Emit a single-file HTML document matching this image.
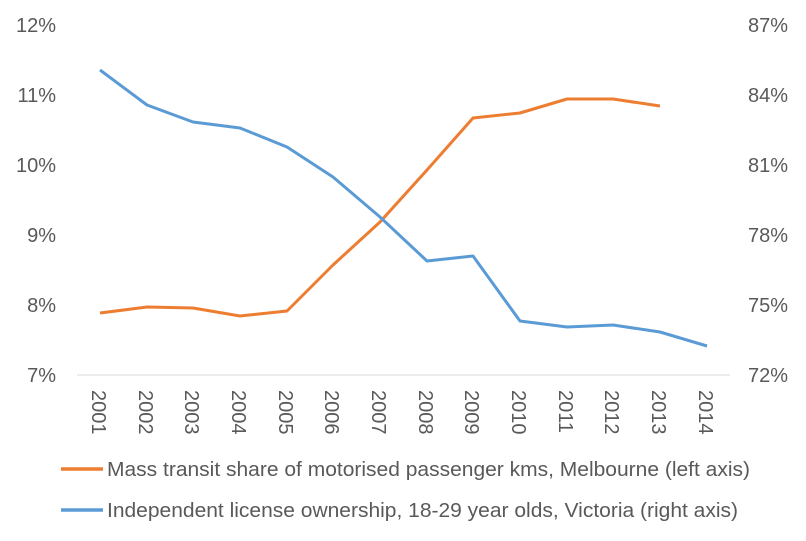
<!DOCTYPE html>
<html><head><meta charset="utf-8"><style>
html,body{margin:0;padding:0;background:#fff;}
svg{display:block;font-family:"Liberation Sans",sans-serif;}
</style></head><body>
<svg width="806" height="541" viewBox="0 0 806 541" xmlns="http://www.w3.org/2000/svg">
<rect width="806" height="541" fill="#fff"/>
<g font-size="20" fill="#595959" text-anchor="end">
<text x="56" y="32">12%</text>
<text x="56" y="102">11%</text>
<text x="56" y="172">10%</text>
<text x="56" y="242">9%</text>
<text x="56" y="312">8%</text>
<text x="56" y="382">7%</text>
</g>
<g font-size="20" fill="#595959" text-anchor="start">
<text x="748" y="32">87%</text>
<text x="748" y="102">84%</text>
<text x="748" y="172">81%</text>
<text x="748" y="242">78%</text>
<text x="748" y="312">75%</text>
<text x="748" y="382">72%</text>
</g>
<line x1="77" y1="375" x2="730" y2="375" stroke="#d9d9d9" stroke-width="1"/>
<g font-size="20" fill="#595959" text-anchor="start">
<text transform="translate(92,390) rotate(90)">2001</text>
<text transform="translate(139,390) rotate(90)">2002</text>
<text transform="translate(185,390) rotate(90)">2003</text>
<text transform="translate(232,390) rotate(90)">2004</text>
<text transform="translate(279,390) rotate(90)">2005</text>
<text transform="translate(325,390) rotate(90)">2006</text>
<text transform="translate(372,390) rotate(90)">2007</text>
<text transform="translate(419,390) rotate(90)">2008</text>
<text transform="translate(465,390) rotate(90)">2009</text>
<text transform="translate(512,390) rotate(90)">2010</text>
<text transform="translate(559,390) rotate(90)">2011</text>
<text transform="translate(605,390) rotate(90)">2012</text>
<text transform="translate(652,390) rotate(90)">2013</text>
<text transform="translate(699,390) rotate(90)">2014</text>
</g>
<polyline fill="none" stroke="#ED7D31" stroke-width="3" stroke-linejoin="round" points="100,313 147,307 193,308 240,316 287,311 333,265 380,222 427,170 473,118 520,113 567,99 613,99 660,106"/>
<polyline fill="none" stroke="#5B9BD5" stroke-width="3" stroke-linejoin="round" points="100,70 147,105 193,122 240,128 287,147 333,177 380,217 427,261 473,256 520,321 567,327 613,325 660,332 707,346"/>
<line x1="61" y1="469" x2="103" y2="469" stroke="#ED7D31" stroke-width="3.5"/>
<text x="107" y="476" font-size="20" fill="#595959" textLength="643" lengthAdjust="spacingAndGlyphs">Mass transit share of motorised passenger kms, Melbourne (left axis)</text>
<line x1="61" y1="510" x2="103" y2="510" stroke="#5B9BD5" stroke-width="3.5"/>
<text x="107" y="517" font-size="20" fill="#595959" textLength="631" lengthAdjust="spacingAndGlyphs">Independent license ownership, 18-29 year olds, Victoria (right axis)</text>
</svg>
</body></html>
